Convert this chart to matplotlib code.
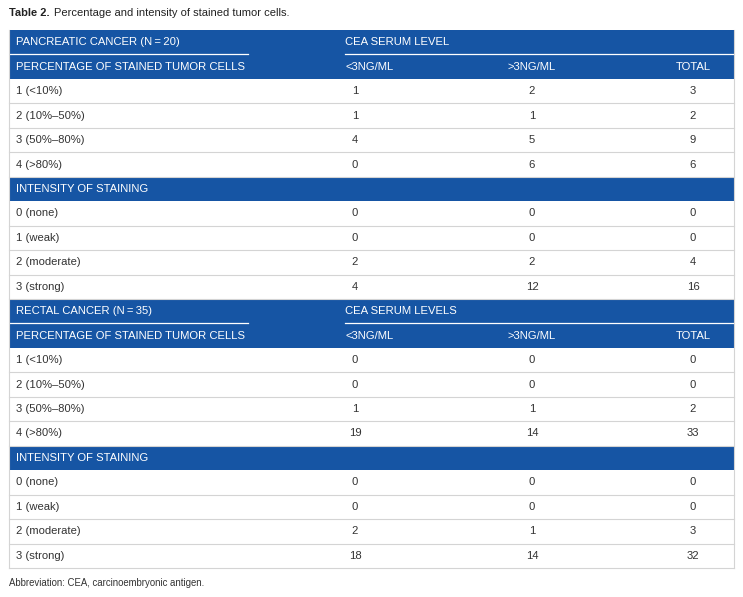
import matplotlib
matplotlib.use("Agg")
import matplotlib.pyplot as plt
from matplotlib.patches import Rectangle

plt.rcParams['font.family'] = ['Liberation Sans', 'DejaVu Sans']

# table content
title_bold = "Table 2."
title_rest = "Percentage and intensity of stained tumor cells."
footnote = "Abbreviation: CEA, carcinoembryonic antigen."

pct_labels = ["1 (<10%)", "2 (10%\u201350%)", "3 (50%\u201380%)", "4 (>80%)"]
int_labels = ["0 (none)", "1 (weak)", "2 (moderate)", "3 (strong)"]

panc_pct_low = [1, 1, 4, 0]
panc_pct_high = [2, 1, 5, 6]
panc_pct_total = [3, 2, 9, 6]
panc_int_low = [0, 0, 2, 4]
panc_int_high = [0, 0, 2, 12]
panc_int_total = [0, 0, 4, 16]

rect_pct_low = [0, 0, 1, 19]
rect_pct_high = [0, 0, 1, 14]
rect_pct_total = [0, 0, 2, 33]
rect_int_low = [0, 0, 2, 18]
rect_int_high = [0, 0, 1, 14]
rect_int_total = [0, 0, 3, 32]

blue = "#1655a4"
grid = "#d4d4d4"
txt = "#333333"
fs = 8.1

W, H = 743, 597
fig = plt.figure(figsize=(W / 100, H / 100), dpi=100)
ax = fig.add_axes([0, 0, 1, 1])
ax.set_xlim(0, W)
ax.set_ylim(H, 0)
ax.axis("off")

x0, x1 = 9, 734
y_top, y_bot = 30, 568
rh = (y_bot - y_top) / 22
x_lab, x_c1h, x_c1, x_c2, x_c3 = 16, 345, 355, 532, 693

# title: bold part then regular part right after it
tb = ax.text(9, 13, title_bold, fontsize=8.0, fontweight="bold", va="center", color="#222222")
fig.canvas.draw()
bb = tb.get_window_extent().transformed(ax.transData.inverted())
ax.text(bb.x1 + 4, 13, title_rest, fontsize=8.0, va="center", color="#222222")


def blue_row(i, left):
    y = y_top + i * rh
    ax.add_patch(Rectangle((x0, y), x1 - x0, rh, color=blue, lw=0))
    yc = y + rh / 2
    ax.text(x_lab, yc, left, fontsize=fs, color="white", va="center")
    return yc


def white_row(i, label, vals):
    y = y_top + i * rh
    yc = y + rh / 2
    ax.plot([x0, x1], [y + rh, y + rh], color=grid, lw=0.8)
    ax.text(x_lab, yc, label, fontsize=fs, color=txt, va="center")
    for xv, v in zip([x_c1, x_c2, x_c3], vals):
        ax.text(xv, yc, str(v), fontsize=fs, color=txt, va="center", ha="center")


def block(start, name, cea, pl, ph, pt, il, ih, it):
    yc = blue_row(start, name)
    ax.text(x_c1h, yc, cea, fontsize=fs, color="white", va="center")
    ysep = y_top + (start + 1) * rh
    ax.plot([x0, 248], [ysep, ysep], color="white", lw=0.9)
    ax.plot([x_c1h, x1], [ysep, ysep], color="white", lw=0.9)
    yc = blue_row(start + 1, "PERCENTAGE OF STAINED TUMOR CELLS")
    ax.text(x_c1h, yc, "<3NG/ML", fontsize=fs, color="white", va="center")
    ax.text(x_c2, yc, ">3NG/ML", fontsize=fs, color="white", va="center", ha="center")
    ax.text(x_c3, yc, "TOTAL", fontsize=fs, color="white", va="center", ha="center")
    for k in range(4):
        white_row(start + 2 + k, pct_labels[k], [pl[k], ph[k], pt[k]])
    blue_row(start + 6, "INTENSITY OF STAINING")
    for k in range(4):
        white_row(start + 7 + k, int_labels[k], [il[k], ih[k], it[k]])


block(0, "PANCREATIC CANCER (N\u2009=\u200920)", "CEA SERUM LEVEL",
      panc_pct_low, panc_pct_high, panc_pct_total,
      panc_int_low, panc_int_high, panc_int_total)
block(11, "RECTAL CANCER (N\u2009=\u200935)", "CEA SERUM LEVELS",
      rect_pct_low, rect_pct_high, rect_pct_total,
      rect_int_low, rect_int_high, rect_int_total)

# outer side borders
ax.plot([x0, x0], [y_top, y_bot], color=grid, lw=0.8)
ax.plot([x1, x1], [y_top, y_bot], color=grid, lw=0.8)

ax.text(9, 583, footnote, fontsize=6.9, color="#333333", va="center")

fig.savefig("out.png", dpi=100)
